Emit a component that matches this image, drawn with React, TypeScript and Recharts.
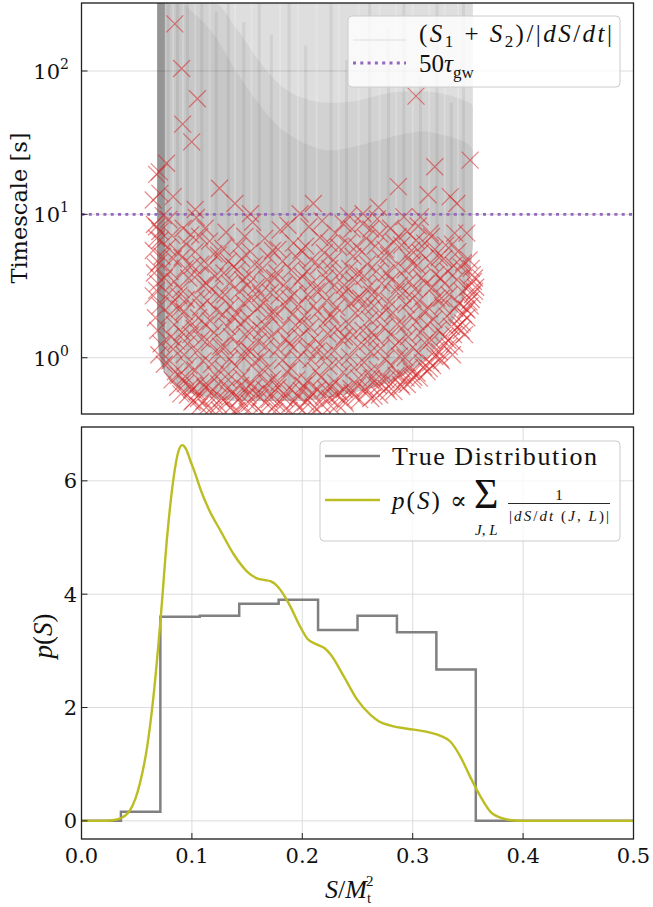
import React from "react";
import { ComposedChart, Line, Area, Scatter, XAxis, YAxis, CartesianGrid, ReferenceLine } from "recharts";

// ---------- axes ----------
const X_DOMAIN: [number, number] = [0, 0.5];
const X_TICKS = [0, 0.1, 0.2, 0.3, 0.4, 0.5];
const TOP_Y_DOMAIN: [number, number] = [0.405, 298];
const TOP_Y_TICKS = [1, 10, 100];
const TOP_Y_MINOR = [0.5, 0.6, 0.7, 0.8, 0.9, 2, 3, 4, 5, 6, 7, 8, 9, 20, 30, 40, 50, 60, 70, 80, 90, 200];
const BOT_Y_DOMAIN: [number, number] = [-0.32, 6.95];
const BOT_Y_TICKS = [0, 2, 4, 6];
const TAU_GW_50 = 10;
const T_MAX = 298;

// ---------- top panel: gray trajectory envelope ----------
const ENV_S = [0.0685, 0.07, 0.074, 0.08, 0.09, 0.1, 0.12, 0.14, 0.16, 0.18, 0.2, 0.225, 0.25, 0.27, 0.29, 0.31, 0.325, 0.338, 0.347, 0.352, 0.3545];
const ENV_LOW = [1.6, 1.05, 0.82, 0.7, 0.6, 0.56, 0.52, 0.5, 0.5, 0.5, 0.5, 0.53, 0.58, 0.64, 0.74, 0.95, 1.3, 1.9, 2.7, 3.8, 6];
const DOME_HI = [298, 298, 298, 298, 298, 298, 298, 200, 120, 80, 65, 60, 62, 68, 72, 72, 70, 66, 62, 60, 56];
const DOME_LO = [298, 298, 298, 298, 298, 260, 180, 100, 60, 40, 32, 28, 30, 33, 36, 38, 36, 34, 32, 30, 28];
const BAND_S = [0.0685, 0.0705, 0.073, 0.0755];
const BAND_LOW = [1.6, 1.1, 0.88, 0.8];
// [S, bottom, top]
const STREAKS_DARK: [number, number, number][] = [
  [0.0785, 0.72, 298], [0.087, 0.62, 298], [0.096, 0.57, 298], [0.109, 0.54, 298], [0.122, 0.52, 260],
  [0.133, 0.51, 298], [0.147, 0.5, 220], [0.161, 0.5, 298], [0.172, 0.5, 180], [0.188, 0.5, 298],
  [0.203, 0.5, 150], [0.226, 0.53, 298], [0.24, 0.56, 120], [0.261, 0.6, 298], [0.278, 0.67, 200],
  [0.292, 0.76, 298], [0.307, 0.93, 90], [0.322, 1.25, 298], [0.335, 1.8, 60], [0.346, 2.6, 298],
];
const STREAKS_LIGHT: [number, number, number][] = [
  [0.083, 0.66, 298], [0.092, 0.6, 298], [0.103, 0.55, 298], [0.116, 0.53, 298], [0.139, 0.5, 298],
  [0.154, 0.5, 298], [0.18, 0.5, 298], [0.196, 0.5, 298], [0.213, 0.51, 298], [0.233, 0.55, 298],
  [0.251, 0.58, 298], [0.27, 0.64, 298], [0.285, 0.72, 298], [0.3, 0.84, 298], [0.315, 1.05, 298],
  [0.329, 1.45, 298], [0.341, 2.1, 298],
];

// ---------- top panel: red markers [S, timescale] ----------
const MARKERS: [number, number][] = [
  [0.0845, 213], [0.0907, 104], [0.105, 64], [0.0916, 42.6], [0.0998, 32], [0.0705, 19.8], [0.077, 22.7],
  [0.125, 15.2], [0.139, 11.9], [0.083, 13.3], [0.065, 12.6], [0.198, 10.1], [0.21, 11.9], [0.153, 10.1],
  [0.103, 10.8], [0.303, 66.8], [0.32, 21.5], [0.352, 23.9], [0.287, 15.6], [0.314, 13.7], [0.334, 13.3],
  [0.34, 11.9], [0.269, 11.2], [0.255, 10.1], [0.307, 9.6], [0.338, 7.4], [0.349, 7.4], [0.346, 4.6],
  [0.316, 7.4], [0.068, 19], [0.071, 14], [0.068, 8.2], [0.071, 6.6],
  [0.066, 8.5], [0.068, 6.8], [0.065, 5.6], [0.07, 4.6], [0.066, 3.9], [0.069, 3.3], [0.065, 2.7], [0.071, 2.3],
  [0.067, 1.9], [0.069, 1.55], [0.072, 1.25], [0.07, 1.05], [0.075, 0.9], [0.073, 5.1], [0.071, 7.6], [0.067, 4.3], [0.068, 2.95],
  [0.079, 9.2], [0.082, 7.1], [0.078, 5.9], [0.083, 4.9], [0.08, 4.0], [0.084, 3.4], [0.079, 2.8], [0.082, 2.4],
  [0.08, 2.0], [0.084, 1.7], [0.081, 1.4], [0.083, 1.15], [0.08, 0.95], [0.085, 0.8], [0.082, 0.7], [0.087, 0.62],
  [0.092, 8.0], [0.095, 6.2], [0.091, 5.0], [0.094, 4.2], [0.097, 3.6], [0.09, 3.0], [0.095, 2.55], [0.093, 2.1],
  [0.098, 1.8], [0.091, 1.5], [0.096, 1.25], [0.093, 1.05], [0.097, 0.88], [0.094, 0.74], [0.099, 0.63], [0.096, 0.55], [0.101, 0.5],
  [0.104, 9.5], [0.107, 7.0], [0.103, 5.5], [0.108, 4.5], [0.105, 3.8], [0.11, 3.2], [0.104, 2.6], [0.108, 2.25],
  [0.106, 1.9], [0.102, 1.6], [0.109, 1.35], [0.105, 1.12], [0.11, 0.95], [0.103, 0.82], [0.108, 0.68], [0.105, 0.58], [0.111, 0.5], [0.107, 0.46],
  [0.116, 6.5], [0.12, 5.3], [0.115, 4.4], [0.121, 3.7], [0.118, 3.0], [0.114, 2.5], [0.122, 2.15], [0.117, 1.8],
  [0.12, 1.5], [0.116, 1.28], [0.123, 1.08], [0.118, 0.9], [0.121, 0.76], [0.115, 0.64], [0.12, 0.54], [0.124, 0.47], [0.117, 0.44],
  [0.131, 7.5], [0.128, 5.8], [0.133, 4.7], [0.129, 3.9], [0.134, 3.3], [0.13, 2.75], [0.135, 2.3], [0.128, 2.0],
  [0.132, 1.65], [0.136, 1.4], [0.13, 1.18], [0.134, 0.98], [0.129, 0.83], [0.133, 0.7], [0.137, 0.58], [0.131, 0.5], [0.135, 0.45],
  [0.142, 6.0], [0.145, 4.9], [0.141, 4.1], [0.146, 3.5], [0.143, 2.9], [0.147, 2.4], [0.14, 2.05], [0.144, 1.72],
  [0.148, 1.45], [0.142, 1.22], [0.146, 1.02], [0.14, 0.87], [0.145, 0.73], [0.149, 0.61], [0.143, 0.52], [0.147, 0.46], [0.141, 0.43],
  [0.155, 8.8], [0.153, 5.5], [0.157, 4.5], [0.152, 3.8], [0.158, 3.1], [0.154, 2.6], [0.159, 2.2], [0.151, 1.9],
  [0.156, 1.58], [0.16, 1.3], [0.153, 1.1], [0.157, 0.93], [0.161, 0.78], [0.154, 0.66], [0.158, 0.56], [0.152, 0.48], [0.16, 0.44],
  [0.166, 6.8], [0.169, 5.1], [0.164, 4.2], [0.168, 3.5], [0.171, 2.85], [0.165, 2.4], [0.17, 2.0], [0.166, 1.7],
  [0.172, 1.42], [0.167, 1.2], [0.163, 1.0], [0.169, 0.85], [0.173, 0.71], [0.166, 0.6], [0.17, 0.51], [0.174, 0.45],
  [0.18, 7.8], [0.178, 5.7], [0.182, 4.7], [0.177, 3.9], [0.183, 3.2], [0.179, 2.7], [0.184, 2.3], [0.176, 1.95],
  [0.181, 1.62], [0.185, 1.35], [0.178, 1.15], [0.182, 0.96], [0.186, 0.8], [0.179, 0.67], [0.183, 0.56], [0.177, 0.48], [0.185, 0.44],
  [0.192, 6.3], [0.195, 5.0], [0.19, 4.1], [0.196, 3.4], [0.193, 2.8], [0.197, 2.35], [0.191, 2.0], [0.194, 1.68],
  [0.198, 1.4], [0.192, 1.18], [0.196, 0.99], [0.19, 0.84], [0.195, 0.7], [0.199, 0.59], [0.193, 0.5], [0.197, 0.45],
  [0.206, 8.2], [0.203, 6.0], [0.208, 4.8], [0.204, 4.0], [0.209, 3.3], [0.205, 2.75], [0.21, 2.3], [0.202, 1.95],
  [0.207, 1.63], [0.211, 1.36], [0.204, 1.15], [0.208, 0.97], [0.212, 0.81], [0.205, 0.68], [0.209, 0.57], [0.203, 0.49], [0.211, 0.45],
  [0.218, 9.0], [0.216, 6.9], [0.22, 5.4], [0.215, 4.4], [0.221, 3.6], [0.217, 3.0], [0.222, 2.5], [0.214, 2.1],
  [0.219, 1.75], [0.223, 1.47], [0.216, 1.24], [0.22, 1.04], [0.224, 0.87], [0.217, 0.73], [0.221, 0.61], [0.225, 0.52], [0.218, 0.47],
  [0.23, 7.4], [0.233, 5.9], [0.228, 4.8], [0.234, 3.9], [0.229, 3.2], [0.235, 2.7], [0.231, 2.25], [0.227, 1.9],
  [0.232, 1.58], [0.236, 1.32], [0.229, 1.12], [0.233, 0.94], [0.237, 0.79], [0.23, 0.67], [0.234, 0.57], [0.238, 0.5], [0.232, 0.47],
  [0.242, 9.8], [0.245, 7.9], [0.241, 6.3], [0.246, 5.1], [0.243, 4.2], [0.247, 3.5], [0.24, 2.9], [0.244, 2.4],
  [0.248, 2.05], [0.242, 1.72], [0.246, 1.44], [0.25, 1.2], [0.243, 1.01], [0.247, 0.85], [0.251, 0.72], [0.244, 0.61], [0.248, 0.53],
  [0.255, 8.6], [0.258, 6.8], [0.254, 5.5], [0.259, 4.5], [0.256, 3.7], [0.26, 3.1], [0.253, 2.6], [0.257, 2.2],
  [0.261, 1.85], [0.255, 1.55], [0.259, 1.3], [0.262, 1.1], [0.256, 0.93], [0.26, 0.79], [0.264, 0.67], [0.258, 0.58], [0.262, 0.52],
  [0.268, 9.3], [0.27, 7.3], [0.266, 6.0], [0.271, 4.9], [0.267, 4.0], [0.272, 3.3], [0.269, 2.75], [0.265, 2.3],
  [0.27, 1.95], [0.274, 1.63], [0.267, 1.38], [0.271, 1.16], [0.275, 0.98], [0.268, 0.83], [0.272, 0.71], [0.276, 0.61], [0.27, 0.55],
  [0.28, 8.0], [0.283, 6.4], [0.278, 5.2], [0.284, 4.3], [0.281, 3.5], [0.285, 2.9], [0.279, 2.45], [0.282, 2.05],
  [0.286, 1.72], [0.28, 1.45], [0.284, 1.22], [0.288, 1.03], [0.281, 0.88], [0.285, 0.75], [0.289, 0.65], [0.283, 0.58],
  [0.292, 9.6], [0.295, 7.6], [0.29, 6.1], [0.296, 5.0], [0.293, 4.1], [0.297, 3.4], [0.291, 2.8], [0.294, 2.35],
  [0.298, 1.98], [0.292, 1.66], [0.296, 1.4], [0.3, 1.18], [0.293, 1.0], [0.297, 0.85], [0.301, 0.73], [0.295, 0.65],
  [0.305, 8.3], [0.303, 6.6], [0.307, 5.4], [0.304, 4.4], [0.308, 3.6], [0.302, 3.0], [0.306, 2.5], [0.31, 2.1],
  [0.303, 1.78], [0.307, 1.5], [0.311, 1.27], [0.305, 1.08], [0.309, 0.92], [0.313, 0.8], [0.306, 0.72],
  [0.317, 7.0], [0.32, 5.7], [0.316, 4.6], [0.321, 3.8], [0.318, 3.1], [0.322, 2.6], [0.315, 2.2], [0.319, 1.85],
  [0.323, 1.56], [0.317, 1.33], [0.321, 1.13], [0.325, 0.98], [0.318, 0.88],
  [0.33, 6.1], [0.328, 4.9], [0.332, 4.0], [0.329, 3.3], [0.333, 2.75], [0.327, 2.3], [0.331, 1.95], [0.335, 1.65], [0.329, 1.4], [0.333, 1.2], [0.336, 1.05],
  [0.341, 5.5], [0.344, 4.3], [0.34, 3.5], [0.345, 2.9], [0.342, 2.4], [0.346, 2.0], [0.343, 1.7], [0.347, 1.45],
  [0.351, 4.8], [0.354, 3.8], [0.35, 3.1], [0.353, 2.55], [0.349, 2.15], [0.355, 3.4],
  [0.338, 1.25], [0.344, 1.55], [0.349, 1.9], [0.352, 2.3], [0.356, 2.9], [0.326, 0.95], [0.315, 0.84], [0.3, 0.7],
  [0.29, 0.63], [0.278, 0.58], [0.265, 0.54],
  [0.09, 0.56], [0.1, 0.49], [0.113, 0.45], [0.125, 0.43], [0.138, 0.42], [0.15, 0.42], [0.163, 0.42], [0.175, 0.42],
  [0.188, 0.43], [0.2, 0.43], [0.213, 0.44], [0.226, 0.46], [0.239, 0.48], [0.252, 0.51],
  [0.088, 0.75], [0.094, 0.66], [0.1, 0.6], [0.106, 0.52], [0.112, 0.62], [0.118, 0.58], [0.124, 0.66], [0.127, 0.52],
  [0.132, 0.61], [0.139, 0.54], [0.144, 0.64], [0.151, 0.55], [0.156, 0.62], [0.162, 0.53], [0.168, 0.66], [0.172, 0.56],
  [0.178, 0.62], [0.184, 0.52], [0.19, 0.6], [0.196, 0.54], [0.201, 0.64], [0.207, 0.53], [0.214, 0.6], [0.219, 0.54],
  [0.226, 0.63], [0.231, 0.55], [0.238, 0.6], [0.245, 0.57], [0.25, 0.64], [0.257, 0.6], [0.263, 0.72], [0.269, 0.64],
  [0.276, 0.7], [0.282, 0.67], [0.288, 0.76], [0.294, 0.72], [0.299, 0.8], [0.304, 0.78], [0.31, 0.86], [0.316, 0.92],
  [0.32, 1.02], [0.324, 1.1], [0.328, 1.22], [0.332, 1.32], [0.337, 1.45], [0.34, 1.62], [0.345, 1.75], [0.348, 2.2],
  [0.351, 2.45], [0.354, 2.75], [0.357, 3.1], [0.356, 3.6], [0.353, 4.2],
  [0.086, 1.3], [0.089, 2.2], [0.099, 1.45], [0.112, 1.7], [0.126, 1.2], [0.138, 1.9], [0.15, 1.15], [0.163, 1.55],
  [0.175, 2.1], [0.188, 1.25], [0.2, 1.75], [0.213, 1.1], [0.226, 2.0], [0.238, 1.4], [0.25, 2.6], [0.263, 1.5],
  [0.276, 2.15], [0.288, 1.3], [0.3, 2.6], [0.313, 1.7], [0.326, 2.6], [0.338, 2.2],
  [0.075, 3.6], [0.088, 2.7], [0.1, 4.4], [0.113, 3.3], [0.125, 2.7], [0.138, 4.3], [0.15, 3.2], [0.162, 2.8],
  [0.175, 3.6], [0.188, 2.6], [0.2, 3.7], [0.213, 2.9], [0.225, 4.2], [0.238, 3.2], [0.25, 3.9], [0.263, 2.75],
  [0.276, 3.9], [0.288, 3.2], [0.3, 4.5], [0.312, 3.3], [0.325, 3.6], [0.337, 4.4],
  [0.074, 9.8], [0.087, 5.5], [0.099, 7.2], [0.112, 8.0], [0.124, 5.2], [0.148, 7.0], [0.173, 5.6], [0.187, 8.4],
  [0.199, 5.6], [0.224, 6.3], [0.237, 8.6], [0.249, 6.0], [0.262, 7.9], [0.275, 5.7], [0.287, 7.0], [0.299, 5.6],
  [0.311, 6.3], [0.324, 5.0], [0.336, 6.2],
];

// ---------- bottom panel ----------
const BIN_EDGES = [0, 1 / 28, 2 / 28, 3 / 28, 4 / 28, 5 / 28, 6 / 28, 7 / 28, 8 / 28, 9 / 28, 10 / 28, 0.5];
const TRUE_DENSITY = [0, 0.16, 3.6, 3.62, 3.83, 3.9, 3.37, 3.62, 3.33, 2.67, 0, 0];
const KDE_S = [0, 0.02, 0.028, 0.036, 0.044, 0.049, 0.053, 0.0595, 0.0655, 0.0716, 0.0776, 0.0836, 0.0875, 0.0912, 0.0945,
  0.0987, 0.1035, 0.1078, 0.1153, 0.1259, 0.138, 0.15, 0.159, 0.166, 0.171, 0.176, 0.18, 0.185, 0.189, 0.198, 0.2044,
  0.2135, 0.22, 0.2255, 0.2376, 0.2497, 0.2618, 0.27, 0.28, 0.301, 0.315, 0.3252, 0.334, 0.3433, 0.352, 0.3614, 0.3705,
  0.3825, 0.39, 0.4, 0.5];
const KDE_P = [0, 0, 0.01, 0.05, 0.19, 0.4, 0.67, 1.31, 2.25, 3.55, 5.02, 6.08, 6.5, 6.63, 6.57,
  6.35, 6.1, 5.85, 5.5, 5.12, 4.7, 4.4, 4.28, 4.25, 4.23, 4.17, 4.08, 3.93, 3.79, 3.43, 3.22,
  3.11, 3.05, 2.94, 2.55, 2.14, 1.87, 1.75, 1.68, 1.61, 1.56, 1.5, 1.4, 1.13, 0.78, 0.43, 0.16,
  0.04, 0.01, 0, 0];

// ---------- derived tables ----------
const envData = ENV_S.map((s, i) => ({
  s,
  full: [ENV_LOW[i], T_MAX],
  domeHi: [ENV_LOW[i], DOME_HI[i]],
  domeLo: [ENV_LOW[i], DOME_LO[i]],
}));
const bandData = BAND_S.map((s, i) => ({ s, band: [BAND_LOW[i], T_MAX] }));
const markerData = MARKERS.map(([s, t]) => ({ s, t }));
const stepData = BIN_EDGES.map((s, i) => ({ s, p: TRUE_DENSITY[i] }));
const kdeData = KDE_S.map((s, i) => ({ s, p: KDE_P[i] }));

const TICK_FONT = "'DejaVu Serif', 'Liberation Serif', serif";
const MATH_FONT = "'Liberation Serif', 'DejaVu Serif', serif";

const LogTick = (props: any) => {
  const { x, y, payload } = props;
  const exp = Math.round(Math.log10(payload.value));
  return (
    <text x={x} y={y + 8} textAnchor="end" style={{ fontFamily: TICK_FONT }} fontSize={21} fill="#111">
      10<tspan dy={-10} fontSize={14}>{exp}</tspan>
    </text>
  );
};

const XMarker = (props: any) => {
  const { cx, cy } = props;
  if (cx == null || cy == null) return null;
  const r = 8.5;
  return (
    <path
      d={`M${cx - r},${cy - r}L${cx + r},${cy + r}M${cx - r},${cy + r}L${cx + r},${cy - r}`}
      stroke="#d62728"
      strokeOpacity={0.55}
      strokeWidth={1.25}
      fill="none"
    />
  );
};

const tickStyle = { fill: "#111", fontSize: 21, style: { fontFamily: TICK_FONT } };

export default function App() {
  return (
    <div style={{ position: "absolute", left: 0, top: 0, width: 653, height: 907, background: "#fff", overflow: "hidden" }}>
      <div style={{ position: "absolute", left: 0, top: 0 }}>
        <ComposedChart width={653} height={420} margin={{ top: 3, right: 19.5, bottom: 0, left: 11.5 }}>
          <CartesianGrid stroke="#dcdcdc" strokeWidth={1} />
          <XAxis type="number" dataKey="s" domain={X_DOMAIN} ticks={X_TICKS} interval={0} allowDataOverflow
            tick={false} tickSize={-6} height={6} axisLine={false} tickLine={{ stroke: "#222" }} />
          <YAxis yAxisId="minor" scale="log" domain={TOP_Y_DOMAIN} ticks={TOP_Y_MINOR} interval={0} allowDataOverflow
            mirror width={0} tick={false} tickSize={3.5} axisLine={false} tickLine={{ stroke: "#222" }} />
          <YAxis scale="log" domain={TOP_Y_DOMAIN} ticks={TOP_Y_TICKS} interval={0} allowDataOverflow width={70}
            tick={<LogTick />} tickSize={-6} tickMargin={18.5} axisLine={false} tickLine={{ stroke: "#222" }} />
          <Area data={envData} dataKey="full" type="monotone" stroke="none" fill="#000" fillOpacity={0.13} isAnimationActive={false} />
          <Area data={envData} dataKey="domeHi" type="monotone" stroke="none" fill="#000" fillOpacity={0.05} isAnimationActive={false} />
          <Area data={envData} dataKey="domeLo" type="monotone" stroke="none" fill="#000" fillOpacity={0.05} isAnimationActive={false} />
          <Area data={bandData} dataKey="band" type="linear" stroke="none" fill="#000" fillOpacity={0.25} isAnimationActive={false} />
          {STREAKS_DARK.map(([s, lo, hi], i) => (
            <Line key={"d" + i} data={[{ s, t: lo }, { s, t: hi }]} dataKey="t" stroke="#303030" strokeOpacity={0.08}
              strokeWidth={3} dot={false} isAnimationActive={false} />
          ))}
          {STREAKS_LIGHT.map(([s, lo, hi], i) => (
            <Line key={"l" + i} data={[{ s, t: lo }, { s, t: hi }]} dataKey="t" stroke="#ffffff" strokeOpacity={0.2}
              strokeWidth={2} dot={false} isAnimationActive={false} />
          ))}
          <Scatter data={markerData} dataKey="t" shape={<XMarker />} isAnimationActive={false} />
          <ReferenceLine y={TAU_GW_50} stroke="#9467bd" strokeWidth={2.8} strokeDasharray="3 4.3" />
        </ComposedChart>
      </div>

      <div style={{ position: "absolute", left: 0, top: 420 }}>
        <ComposedChart width={653} height={487} margin={{ top: 7, right: 19.5, bottom: 0, left: 11.5 }}>
          <CartesianGrid stroke="#dcdcdc" strokeWidth={1} />
          <XAxis type="number" dataKey="s" domain={X_DOMAIN} ticks={X_TICKS} interval={0} allowDataOverflow height={68}
            tickSize={-6} tickMargin={15} axisLine={false} tickLine={{ stroke: "#222" }}
            tick={tickStyle} tickFormatter={(v: number) => v.toFixed(1)} />
          <YAxis domain={BOT_Y_DOMAIN} ticks={BOT_Y_TICKS} interval={0} allowDataOverflow width={70}
            tickSize={-6} tickMargin={10.5} axisLine={false} tickLine={{ stroke: "#222" }}
            tick={tickStyle} />
          <Line data={stepData} dataKey="p" type="stepAfter" stroke="#808080" strokeWidth={2.5} dot={false} isAnimationActive={false} />
          <Line data={kdeData} dataKey="p" type="monotone" stroke="#bcbd22" strokeWidth={2.4} dot={false} isAnimationActive={false} />
        </ComposedChart>
      </div>

      <svg width={653} height={907} style={{ position: "absolute", left: 0, top: 0, pointerEvents: "none" }}>
        {/* frames */}
        <rect x={81.5} y={3} width={552} height={411} fill="none" stroke="#222" strokeWidth={1.3} />
        <rect x={81.5} y={427} width={552} height={412} fill="none" stroke="#222" strokeWidth={1.3} />

        {/* axis labels */}
        <text transform="translate(27,208) rotate(-90)" textAnchor="middle" style={{ fontFamily: TICK_FONT }} fontSize={22.5} fill="#111">
          Timescale [s]
        </text>
        <text transform="translate(52,636) rotate(-90)" textAnchor="middle" style={{ fontFamily: MATH_FONT }} fontSize={27} fill="#111">
          <tspan fontStyle="italic">p</tspan>(<tspan fontStyle="italic">S</tspan>)
        </text>
        <text x={325} y={898} style={{ fontFamily: MATH_FONT }} fontSize={26} fill="#111">
          <tspan fontStyle="italic">S</tspan>/<tspan fontStyle="italic">M</tspan>
          <tspan fontSize={15} dy={5}>t</tspan>
          <tspan fontSize={15} dx={-5} dy={-17}>2</tspan>
        </text>

        {/* top legend */}
        <rect x={348} y={16} width={272} height={71} rx={4} fill="#fff" fillOpacity={0.8} stroke="#cccccc" strokeWidth={1} />
        <line x1={353} x2={406} y1={40} y2={40} stroke="#808080" strokeOpacity={0.1} strokeWidth={2} />
        <text x={419} y={42} style={{ fontFamily: MATH_FONT }} fontSize={25} fill="#111" textLength={193} lengthAdjust="spacing">
          (<tspan fontStyle="italic">S</tspan><tspan fontSize={17} dy={5}>1</tspan><tspan dy={-5}>{" + "}</tspan>
          <tspan fontStyle="italic">S</tspan><tspan fontSize={17} dy={5}>2</tspan><tspan dy={-5}>)/|</tspan>
          <tspan fontStyle="italic">dS</tspan>/<tspan fontStyle="italic">dt</tspan>|
        </text>
        <line x1={353} x2={406} y1={63} y2={63} stroke="#9467bd" strokeWidth={2.8} strokeDasharray="3 4.3" />
        <text x={419} y={72} style={{ fontFamily: MATH_FONT }} fontSize={25} fill="#111">
          50<tspan fontStyle="italic">τ</tspan><tspan fontSize={17} dy={6}>gw</tspan>
        </text>

        {/* bottom legend */}
        <rect x={320} y={441} width={300} height={100} rx={4} fill="#fff" fillOpacity={0.8} stroke="#cccccc" strokeWidth={1} />
        <line x1={325} x2={380} y1={456} y2={456} stroke="#808080" strokeWidth={2.5} />
        <text x={392} y={465} style={{ fontFamily: MATH_FONT }} fontSize={26} fill="#111" textLength={205} lengthAdjust="spacing">
          True Distribution
        </text>
        <line x1={325} x2={380} y1={500} y2={500} stroke="#bcbd22" strokeWidth={2.4} />
        <text x={392} y={509} style={{ fontFamily: MATH_FONT }} fontSize={25} fill="#111" textLength={75} lengthAdjust="spacing">
          <tspan fontStyle="italic">p</tspan>(<tspan fontStyle="italic">S</tspan>) ∝
        </text>
        <text x={474} y={508} style={{ fontFamily: MATH_FONT }} fontSize={42} fill="#111">Σ</text>
        <text x={475} y={535} style={{ fontFamily: MATH_FONT }} fontSize={15} fill="#111">
          <tspan fontStyle="italic">J</tspan>, <tspan fontStyle="italic">L</tspan>
        </text>
        <text x={559} y={500} style={{ fontFamily: MATH_FONT }} fontSize={15} fill="#111" textAnchor="middle">1</text>
        <line x1={508} x2={610} y1={503.5} y2={503.5} stroke="#111" strokeWidth={0.9} />
        <text x={509} y={521} style={{ fontFamily: MATH_FONT }} fontSize={15} fill="#111" textLength={100} lengthAdjust="spacing">
          |<tspan fontStyle="italic">dS</tspan>/<tspan fontStyle="italic">dt</tspan> (<tspan fontStyle="italic">J</tspan>, <tspan fontStyle="italic">L</tspan>)|
        </text>
      </svg>
    </div>
  );
}
